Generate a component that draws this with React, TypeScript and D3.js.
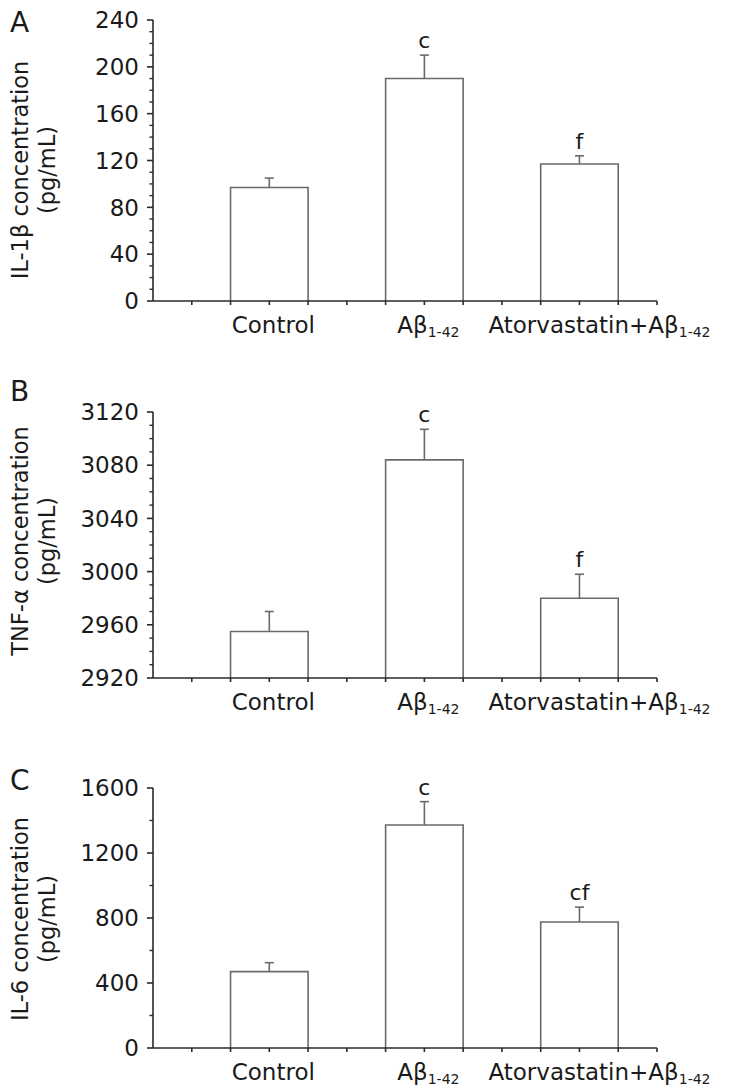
import React from "react";
import * as d3 from "d3";

const categories = ["Control", "Aβ1-42", "Atorvastatin+Aβ1-42"];

const il1bValues = [97, 190, 117];
const il1bErrors = [8, 20, 7];
const il1bMarks = ["", "c", "f"];

const tnfValues = [2955, 3084, 2980];
const tnfErrors = [15, 23, 18];
const tnfMarks = ["", "c", "f"];

const il6Values = [470, 1372, 775];
const il6Errors = [55, 144, 92];
const il6Marks = ["", "c", "cf"];

const panels = [
  {
    letter: "A", title: "IL-1β concentration", values: il1bValues, errors: il1bErrors, marks: il1bMarks,
    domain: [0, 240], major: 40, minor: 10, top: 20, bottom: 301, titleY: 170, letterY: 32,
  },
  {
    letter: "B", title: "TNF-α concentration", values: tnfValues, errors: tnfErrors, marks: tnfMarks,
    domain: [2920, 3120], major: 40, minor: 10, top: 412, bottom: 678, titleY: 541, letterY: 401,
  },
  {
    letter: "C", title: "IL-6 concentration", values: il6Values, errors: il6Errors, marks: il6Marks,
    domain: [0, 1600], major: 400, minor: 200, top: 788, bottom: 1048, titleY: 919, letterY: 790,
  },
];

const FONT = "'DejaVu Sans', Verdana, sans-serif";
const AXIS = "#2a2a2a";
const BAR = "#6a6a6a";
const TEXT = "#1a1a1a";

const X0 = 153;
const X1 = 657;

function Label({ text, x, y }: { text: string; x: number; y: number }) {
  const m = text.match(/^(.*)(1-42)$/);
  if (!m) {
    return (
      <text x={x} y={y} textAnchor="middle" fontSize={23} fontFamily={FONT} fill={TEXT}>
        {text}
      </text>
    );
  }
  return (
    <text x={x} y={y} textAnchor="middle" fontSize={23} fontFamily={FONT} fill={TEXT}>
      {m[1]}
      <tspan fontSize={14} dy={4}>{m[2]}</tspan>
    </text>
  );
}

function Panel({ p }: { p: (typeof panels)[number] }) {
  const y = d3.scaleLinear().domain(p.domain).range([p.bottom, p.top]);
  const xt = d3.scaleLinear().domain([0, 13]).range([X0, X1]);
  const xb = d3
    .scaleBand<string>()
    .domain(categories)
    .range([xt(1), xt(13)])
    .paddingInner(0.5)
    .paddingOuter(0.25);
  const majors = d3.range(p.domain[0], p.domain[1] + 0.001, p.major);
  const minors = d3.range(p.domain[0], p.domain[1] + 0.001, p.minor).filter(
    (v) => Math.abs(((v - p.domain[0]) / p.major) - Math.round((v - p.domain[0]) / p.major)) > 1e-6
  );
  const xTicks = d3.range(1, 14);
  const base = p.bottom;
  return (
    <g>
      <text x={10} y={p.letterY} fontSize={28} fontFamily={FONT} fill={TEXT}>{p.letter}</text>
      <g transform={`translate(28,${p.titleY}) rotate(-90)`}>
        <text textAnchor="middle" fontSize={22.5} fontFamily={FONT} fill={TEXT}>{p.title}</text>
      </g>
      <g transform={`translate(55,${p.titleY}) rotate(-90)`}>
        <text textAnchor="middle" fontSize={22.5} fontFamily={FONT} fill={TEXT}>(pg/mL)</text>
      </g>
      {/* bars */}
      {categories.map((c, i) => {
        const bx = xb(c)!;
        const bw = xb.bandwidth();
        const cx = bx + bw / 2;
        const top = y(p.values[i]);
        const etop = y(p.values[i] + p.errors[i]);
        return (
          <g key={c}>
            <path
              d={`M${bx},${base}V${top}H${bx + bw}V${base}`}
              fill="#fff"
              stroke={BAR}
              strokeWidth={1.6}
            />
            <line x1={cx} x2={cx} y1={top} y2={etop} stroke={BAR} strokeWidth={1.6} />
            <line x1={cx - 4.5} x2={cx + 4.5} y1={etop} y2={etop} stroke={BAR} strokeWidth={1.6} />
            {p.marks[i] && (
              <text x={cx} y={etop - 7} textAnchor="middle" fontSize={22} fontFamily={FONT} fill={TEXT}>
                {p.marks[i]}
              </text>
            )}
            <Label text={c} x={cx + (i === 2 ? 20 : 4)} y={base + 32} />
          </g>
        );
      })}
      {/* y axis */}
      <line x1={X0} x2={X0} y1={p.top} y2={base} stroke={AXIS} strokeWidth={1.6} />
      {majors.map((v) => (
        <g key={"M" + v}>
          <line x1={X0 - 6} x2={X0} y1={y(v)} y2={y(v)} stroke={AXIS} strokeWidth={1.6} />
          <text x={139} y={y(v)} dy="0.36em" textAnchor="end" fontSize={23} fontFamily={FONT} fill={TEXT}>
            {v}
          </text>
        </g>
      ))}
      {minors.map((v) => (
        <line key={"m" + v} x1={X0 - 3.5} x2={X0} y1={y(v)} y2={y(v)} stroke={AXIS} strokeWidth={1.4} />
      ))}
      {/* x axis */}
      <line x1={X0} x2={X1} y1={base} y2={base} stroke={AXIS} strokeWidth={1.6} />
      {xTicks.map((t) => (
        <line key={"x" + t} x1={xt(t)} x2={xt(t)} y1={base} y2={base + 4} stroke={AXIS} strokeWidth={1.6} />
      ))}
    </g>
  );
}

export default function App() {
  return (
    <div style={{ position: "absolute", left: 0, top: 0 }}>
      <svg width={729} height={1091} style={{ display: "block", background: "#fff" }}>
        {panels.map((p) => (
          <Panel key={p.letter} p={p} />
        ))}
      </svg>
    </div>
  );
}
